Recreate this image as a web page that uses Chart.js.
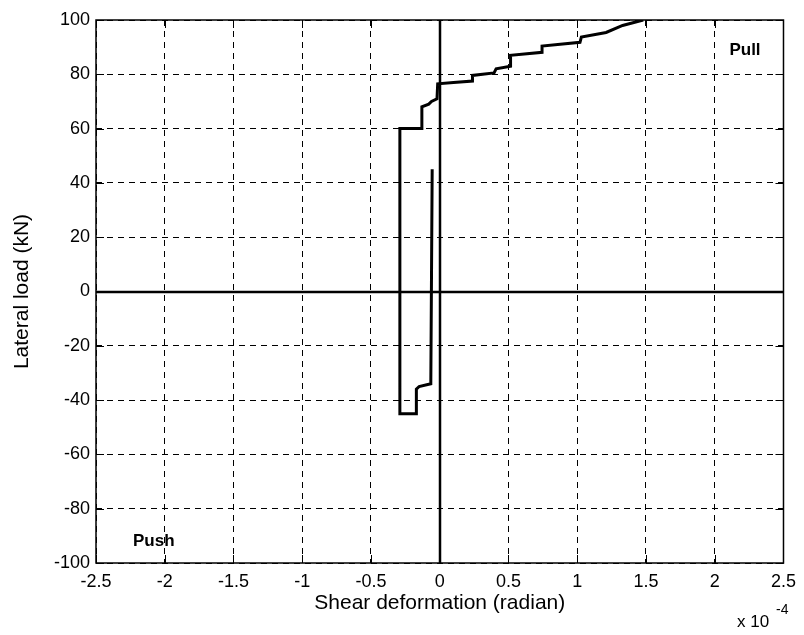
<!DOCTYPE html>
<html>
<head>
<meta charset="utf-8">
<script src="https://cdn.jsdelivr.net/npm/chart.js@4/dist/chart.umd.min.js"></script>
<style>
  html, body { margin: 0; padding: 0; background: #fff; }
  #wrap { width: 804px; height: 635px; }
</style>
</head>
<body>
<div id="wrap"><canvas id="shear-chart"></canvas></div>
<script>
// shear deformation (x 10^-4 radian) and lateral load (kN)
const deformation = [-0.055, -0.065, -0.15, -0.17, -0.17, -0.29, -0.29, -0.13, -0.13, -0.08, -0.06, -0.02, -0.015,
  0.10, 0.238, 0.238, 0.395, 0.41, 0.515, 0.515, 0.744, 0.744, 1.02, 1.03, 1.21, 1.33, 1.48];
const lateralLoad = [45, -34, -35, -36, -45, -45, 60, 60, 68, 69, 70, 71, 76.5,
  77, 77.5, 79.6, 80.5, 82, 83, 87, 88.1, 90.4, 91.8, 93.7, 95.4, 98, 100];
const xTicks = [-2.5, -2, -1.5, -1, -0.5, 0, 0.5, 1, 1.5, 2, 2.5];
const yTicks = [-100, -80, -60, -40, -20, 0, 20, 40, 60, 80, 100];
const notes = [
  { text: "Pull", x: 2.22, y: 89 },
  { text: "Push", x: -2.08, y: -92 }
];

const points = deformation.map((d, i) => ({ x: d, y: lateralLoad[i] }));
const FONT = "'Liberation Sans', Arial, Helvetica, sans-serif";

// frame, zero lines, inward ticks and the Pull/Push notes
const framePlugin = {
  id: "frame",
  beforeDatasetsDraw(chart) {
    const { ctx, chartArea: a, scales: { x, y } } = chart;
    ctx.save();
    ctx.strokeStyle = "#000";
    ctx.setLineDash([]);
    ctx.lineWidth = 2.5;
    const y0 = Math.round(y.getPixelForValue(0));
    const x0 = Math.round(x.getPixelForValue(0));
    ctx.beginPath();
    ctx.moveTo(a.left, y0); ctx.lineTo(a.right, y0);
    ctx.moveTo(x0, a.top); ctx.lineTo(x0, a.bottom);
    ctx.stroke();
    ctx.restore();
  },
  afterDraw(chart) {
    const { ctx, chartArea: a, scales: { x, y } } = chart;
    ctx.save();
    ctx.strokeStyle = "#000";
    ctx.setLineDash([]);
    ctx.lineWidth = 1.5;
    ctx.strokeRect(a.left, a.top, a.right - a.left, a.bottom - a.top);
    ctx.lineWidth = 1;
    ctx.beginPath();
    xTicks.forEach(v => {
      const px = Math.round(x.getPixelForValue(v)) + 0.5;
      ctx.moveTo(px, a.bottom); ctx.lineTo(px, a.bottom - 8);
      ctx.moveTo(px, a.top); ctx.lineTo(px, a.top + 8);
    });
    yTicks.forEach(v => {
      const py = Math.round(y.getPixelForValue(v)) + 0.5;
      ctx.moveTo(a.left, py); ctx.lineTo(a.left + 8, py);
      ctx.moveTo(a.right, py); ctx.lineTo(a.right - 8, py);
    });
    ctx.stroke();

    ctx.fillStyle = "#000";
    ctx.font = "bold 17px " + FONT;
    ctx.textAlign = "center";
    ctx.textBaseline = "middle";
    notes.forEach(n => ctx.fillText(n.text, x.getPixelForValue(n.x), y.getPixelForValue(n.y)));

    // exponent label under the right end of the x axis
    ctx.font = "17px " + FONT;
    ctx.textAlign = "left";
    ctx.textBaseline = "alphabetic";
    ctx.fillText("x 10", 737, 627);
    ctx.font = "14px " + FONT;
    ctx.fillText("-4", 776, 614);
    ctx.restore();
  }
};

const gridColor = ctx => (ctx.tick && ctx.tick.value === 0) ? "rgba(0,0,0,0)" : "#000";

new Chart(document.getElementById("shear-chart"), {
  type: "scatter",
  data: {
    datasets: [
      {
        data: points,
        showLine: true,
        borderColor: "#000",
        borderWidth: 3,
        pointRadius: 0,
        tension: 0,
        fill: false
      }
    ]
  },
  options: {
    responsive: true,
    maintainAspectRatio: false,
    animation: false,
    layout: { padding: { left: 0, right: 16, top: 20, bottom: 0 } },
    plugins: { legend: { display: false }, tooltip: { enabled: false } },
    scales: {
      x: {
        type: "linear",
        min: -2.5,
        max: 2.5,
        afterFit(s) { s.height = 72; },
        afterBuildTicks(s) { s.ticks = xTicks.map(v => ({ value: v })); },
        grid: { color: gridColor, lineWidth: 1, drawTicks: false },
        border: { display: false, dash: [6, 5] },
        ticks: {
          color: "#000",
          padding: 8,
          maxRotation: 0,
          autoSkip: false,
          font: { family: FONT, size: 18 },
          callback: v => String(v)
        },
        title: {
          display: true,
          text: "Shear deformation (radian)",
          color: "#000",
          font: { family: FONT, size: 21 },
          padding: { top: 0, bottom: 19 }
        }
      },
      y: {
        type: "linear",
        min: -100,
        max: 100,
        afterFit(s) { s.width = 96; },
        afterBuildTicks(s) { s.ticks = yTicks.map(v => ({ value: v })); },
        grid: { color: gridColor, lineWidth: 1, drawTicks: false },
        border: { display: false, dash: [6, 5] },
        ticks: {
          color: "#000",
          padding: 6,
          autoSkip: false,
          font: { family: FONT, size: 18 },
          callback: v => String(v)
        },
        title: {
          display: true,
          text: "Lateral load (kN)",
          color: "#000",
          font: { family: FONT, size: 21 },
          padding: { top: 10, bottom: 0 }
        }
      }
    }
  },
  plugins: [framePlugin]
});
</script>
</body>
</html>
